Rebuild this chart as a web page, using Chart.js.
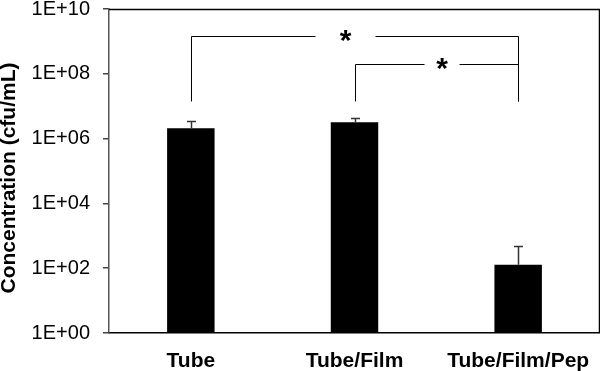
<!DOCTYPE html>
<html><head><meta charset="utf-8">
<script src="https://cdn.jsdelivr.net/npm/chart.js@4/dist/chart.umd.min.js"></script>
<style>html,body{margin:0;padding:0;background:#fff}#wrap{width:600px;height:371px;position:relative}</style>
</head><body><div id="wrap"><canvas id="c" width="600" height="371"></canvas></div>
<script>
const categories = ['Tube', 'Tube/Film', 'Tube/Film/Pep'];
const concentration = [2.1e6, 3.2e6, 1.28e2];
const errorTop = [3.6e6, 4.3e6, 4.9e2];
const yTickValues = [1, 1e2, 1e4, 1e6, 1e8, 1e10];
const yTickLabels = ['1E+00', '1E+02', '1E+04', '1E+06', '1E+08', '1E+10'];
const yTitle = 'Concentration (cfu/mL)';
// significance brackets (category index units / data values)
const bracketFrom = [0, 1];
const bracketTo = [2, 2];
const bracketLevel = [1.5e9, 2.0e8];
const bracketLegBottom = [1.4e7, 1.4e7];
const bracketStarAt = [0.945, 1.535];
const bracketLabel = ['*', '*'];

const FONT = '"Liberation Sans", Arial, sans-serif';

const extras = {
  id: 'extras',
  afterDatasetsDraw(chart) {
    const ctx = chart.ctx, xs = chart.scales.x, ys = chart.scales.y;
    const meta = chart.getDatasetMeta(0);
    ctx.save();
    // error bars (upper only)
    ctx.strokeStyle = '#333';
    ctx.lineWidth = 1.5;
    meta.data.forEach((el, i) => {
      const x = Math.round(el.x) + 0.5;
      const yE = Math.round(ys.getPixelForValue(errorTop[i])) + 0.5;
      ctx.beginPath();
      ctx.moveTo(x, el.y);
      ctx.lineTo(x, yE);
      ctx.moveTo(x - 4.5, yE);
      ctx.lineTo(x + 4.5, yE);
      ctx.stroke();
    });
    // brackets
    const gapHalf = [30, 17.5];
    ctx.strokeStyle = '#000';
    ctx.lineWidth = 1;
    bracketFrom.forEach((f, i) => {
      const x1 = Math.round(xs.getPixelForValue(f)) + 0.5;
      const x2 = Math.round(xs.getPixelForValue(bracketTo[i])) + 0.5;
      const yL = Math.round(ys.getPixelForValue(bracketLevel[i])) + 0.5;
      const yB = ys.getPixelForValue(bracketLegBottom[i]);
      const xs0 = xs.getPixelForValue(bracketStarAt[i]);
      ctx.beginPath();
      ctx.moveTo(x1, yB); ctx.lineTo(x1, yL); ctx.lineTo(xs0 - gapHalf[i], yL);
      ctx.moveTo(xs0 + gapHalf[i], yL); ctx.lineTo(x2, yL); ctx.lineTo(x2, yB);
      ctx.stroke();
      ctx.fillStyle = '#000';
      ctx.font = 'bold 30px ' + FONT;
      ctx.textAlign = 'center';
      ctx.textBaseline = 'alphabetic';
      ctx.fillText(bracketLabel[i], xs0, yL + 13);
    });
    // top & right frame
    const a = chart.chartArea;
    ctx.strokeStyle = '#000';
    ctx.lineWidth = 1.5;
    ctx.beginPath();
    ctx.moveTo(a.left, Math.round(a.top) + 0.5);
    ctx.lineTo(Math.round(a.right) - 0.5, Math.round(a.top) + 0.5);
    ctx.lineTo(Math.round(a.right) - 0.5, a.bottom);
    ctx.stroke();
    // y title
    ctx.translate(9, 178);
    ctx.rotate(-Math.PI / 2);
    ctx.font = 'bold 21px ' + FONT;
    ctx.fillStyle = '#000';
    ctx.textAlign = 'center';
    ctx.textBaseline = 'middle';
    ctx.fillText(yTitle, 0, 0);
    ctx.restore();
  }
};

new Chart(document.getElementById('c'), {
  type: 'bar',
  data: {
    labels: categories,
    datasets: [{
      data: concentration,
      backgroundColor: '#000',
      borderWidth: 0,
      barPercentage: 0.29,
      categoryPercentage: 1.0
    }]
  },
  options: {
    responsive: false,
    animation: false,
    layout: { autoPadding: false, padding: { left: 0, top: 9, right: 0, bottom: 0 } },
    plugins: { legend: { display: false }, tooltip: { enabled: false } },
    scales: {
      x: {
        grid: { display: false },
        border: { display: true, color: '#000', width: 1.5 },
        ticks: { color: '#000', font: { family: FONT, size: 21, weight: 'bold' }, padding: 8, maxRotation: 0 },
        afterFit(s) { s.height = 38; s.paddingLeft = 0; s.paddingRight = 0; }
      },
      y: {
        type: 'logarithmic',
        min: 1,
        max: 1e10,
        grid: { display: true, drawOnChartArea: false, drawTicks: true, tickLength: 6, color: '#444', lineWidth: 1.5 },
        border: { display: true, color: '#555', width: 1.5 },
        afterBuildTicks(s) { s.ticks = yTickValues.map(v => ({ value: v })); },
        ticks: {
          color: '#000', padding: 13,
          font: { family: FONT, size: 20 },
          callback: (v) => yTickLabels[yTickValues.indexOf(v)]
        },
        afterFit(s) { s.width = 109; s.paddingTop = 0; s.paddingBottom = 0; }
      }
    }
  },
  plugins: [extras]
});
</script>
</body></html>
